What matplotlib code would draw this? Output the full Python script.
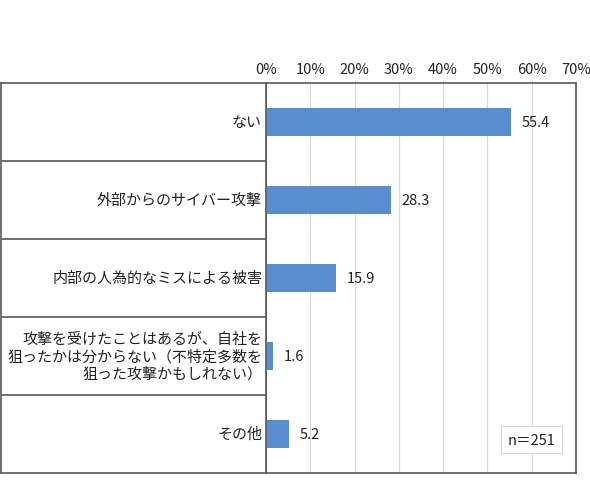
import matplotlib
matplotlib.use('Agg')
import matplotlib.pyplot as plt

plt.rcParams['font.family'] = ['Noto Sans CJK JP', 'DejaVu Sans']

# data, top to bottom as in the reference
categories = [
    'ない',
    '外部からのサイバー攻撃',
    '内部の人為的なミスによる被害',
    '攻撃を受けたことはあるが、自社を\n狙ったかは分からない（不特定多数を\n狙った攻撃かもしれない）',
    'その他',
]
values = [55.4, 28.3, 15.9, 1.6, 5.2]
ticks = [0, 10, 20, 30, 40, 50, 60, 70]
tick_labels = [f'{t}%' for t in ticks]
note = 'n＝251'

W, H = 590, 489
fig = plt.figure(figsize=(W / 100, H / 100), dpi=100)

x0, x1 = 266, 576
ytop, ybot = 84, 474
lab_left = 1

border = '#595959'
bar_color = '#5A8DCD'

n = len(categories)
ax = fig.add_axes([x0 / W, 1 - ybot / H, (x1 - x0) / W, (ybot - ytop) / H])
lab = fig.add_axes([lab_left / W, 1 - ybot / H, (x0 - lab_left) / W, (ybot - ytop) / H])

pos = list(range(n))
ax.barh(pos, values, height=0.35, color=bar_color, zorder=3)
ax.set_xlim(0, 70)
ax.set_ylim(n - 0.5, -0.5)
ax.set_xticks(ticks)
ax.set_xticklabels(tick_labels, fontsize=10.5, color='#222222')
ax.xaxis.tick_top()
ax.tick_params(axis='x', length=0, pad=5)
ax.set_yticks([])
ax.grid(axis='x', color='#d9d9d9', lw=0.8, zorder=0)
for s in ax.spines.values():
    s.set_color(border)
    s.set_linewidth(1.2)

for y, v in zip(pos, values):
    ax.text(v + 2.3, y, f'{v:.1f}', va='center', ha='left', fontsize=10.5, color='#222222')

ax.text(0.858, 0.085, note, transform=ax.transAxes, ha='center', va='center', fontsize=10.5,
        color='#222222',
        bbox=dict(boxstyle='square,pad=0.45', fc='white', ec='#d9d9d9', lw=0.8))

# category label panel
lab.set_xlim(0, 1)
lab.set_ylim(n - 0.5, -0.5)
lab.set_xticks([])
lab.set_yticks([])
for s in lab.spines.values():
    s.set_color(border)
    s.set_linewidth(1.2)
for b in range(1, n):
    lab.axhline(b - 0.5, color=border, lw=1.2)
for y, c in zip(pos, categories):
    lab.text(0.985, y, c, ha='right', va='center', fontsize=10.8, color='#222222',
             linespacing=1.3, multialignment='right')

fig.savefig('out.png', dpi=100)
